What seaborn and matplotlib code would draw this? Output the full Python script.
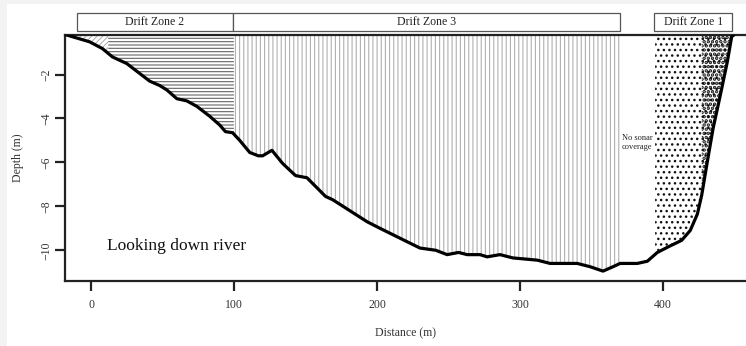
import numpy as np
import pandas as pd
import matplotlib
matplotlib.use("Agg")
import matplotlib.pyplot as plt
import matplotlib.transforms as mtransforms
from matplotlib.patches import Rectangle
import seaborn as sns

# ---- data ----
distance = [-17, -15, -1, 8, 15, 25, 34, 41, 48, 53, 60, 67, 74, 83, 90, 94, 99,
            104, 111, 117, 120, 126.5, 134, 143, 151, 164, 169, 181, 193, 202, 216,
            230, 241, 249, 257, 263, 272, 277, 286, 295, 312, 321, 340, 349, 358,
            365, 370, 382, 389, 396, 405, 413, 419, 424, 427, 431, 435, 440, 445,
            448, 449.5]
depth = [-0.2, -0.24, -0.51, -0.82, -1.2, -1.5, -1.95, -2.3, -2.5, -2.7, -3.1,
         -3.2, -3.45, -3.9, -4.3, -4.6, -4.65, -5.0, -5.55, -5.7, -5.7, -5.45,
         -6.05, -6.6, -6.7, -7.55, -7.7, -8.2, -8.7, -9.0, -9.45, -9.9, -10.0,
         -10.2, -10.1, -10.2, -10.2, -10.3, -10.2, -10.35, -10.45, -10.6, -10.6,
         -10.75, -10.95, -10.75, -10.6, -10.6, -10.5, -10.1, -9.8, -9.55, -9.1,
         -8.35, -7.5, -5.95, -4.45, -2.95, -1.4, -0.27, -0.2]

zone_names = ["Drift Zone 2", "Drift Zone 3", "Drift Zone 1"]
zone_header_start = [-10, 99.5, 393.7]
zone_header_end = [99.5, 370, 448.3]

# hatched regions: (start, end)
diag_region = (-17, 12)
zone2_region = (12, 100)
zone3_region = (100, 370)
zone1_light_region = (394.4, 450)
zone1_dark_region = (427, 450)

x_ticks = [0, 100, 200, 300, 400]
y_ticks = [-2, -4, -6, -8, -10]
x_limits = (-18.2, 458)
y_limits = (-11.4, -0.2)

df = pd.DataFrame({"Distance": distance, "Depth": depth})

sns.set_theme(style="white")
plt.rcParams['font.family'] = ['Liberation Serif', 'DejaVu Serif']

fig = plt.figure(figsize=(7.46, 3.46), dpi=100)
fig.patch.set_facecolor('#f3f3f3')
fig.add_artist(Rectangle((7 / 746, 0), 1, 1 - 4 / 346, transform=fig.transFigure,
                         facecolor='white', edgecolor='none', zorder=-10))
ax = fig.add_axes([65 / 746, (346 - 281) / 346, 1 - 65 / 746, (281 - 35) / 346])
ax.set_facecolor('none')

# dense curve for fills
xd = np.linspace(min(distance), max(distance), 4000)
yd = np.interp(xd, distance, depth)
top = y_limits[1]


def hfill(region, hatch, color, lw):
    m = (xd >= region[0]) & (xd <= region[1])
    poly = ax.fill_between(xd[m], yd[m], top, facecolor='none', edgecolor=color,
                           linewidth=0, hatch=hatch, zorder=1)
    try:
        poly.set_hatch_linewidth(lw)
    except AttributeError:
        pass
    return poly


with plt.rc_context({'hatch.linewidth': 0.6}):
    hfill(diag_region, '//////', '#a0a0a0', 0.6)
with plt.rc_context({'hatch.linewidth': 0.8}):
    hfill(zone2_region, '-----', '#666666', 0.8)
with plt.rc_context({'hatch.linewidth': 0.8}):
    hfill(zone3_region, '||||', '#b0b0b0', 0.8)
with plt.rc_context({'hatch.linewidth': 1.0}):
    hfill(zone1_light_region, '...', '#111111', 1.0)
with plt.rc_context({'hatch.linewidth': 1.7}):
    hfill(zone1_dark_region, '....', '#111111', 1.7)

sns.lineplot(data=df, x="Distance", y="Depth", ax=ax, color='black', linewidth=2.3,
             sort=False, estimator=None, zorder=3)

ax.set_xlim(*x_limits)
ax.set_ylim(*y_limits)
ax.set_xticks(x_ticks)
ax.set_yticks(y_ticks)
ax.set_xticklabels([str(t) for t in x_ticks], fontsize=8.5, color='#333333')
ax.set_yticklabels(["\u2212" + str(abs(t)) for t in y_ticks], fontsize=8.5,
                   color='#333333', rotation=90, va='center')
ax.tick_params(axis='both', direction='out', length=7, width=1.6, color='#222222',
               bottom=True, left=True, pad=6)
ax.tick_params(axis='y', pad=2)
ax.set_xlabel("Distance (m)", fontsize=8.5, color='#333333', labelpad=12)
ax.set_ylabel("Depth (m)", fontsize=8.5, color='#333333', labelpad=12)

for s in ['left', 'bottom', 'top']:
    ax.spines[s].set_visible(True)
    ax.spines[s].set_color('#222222')
    ax.spines[s].set_linewidth(1.6)
ax.spines['right'].set_visible(False)

# header boxes
trans = mtransforms.blended_transform_factory(ax.transData, ax.transAxes)
for name, x0, x1 in zip(zone_names, zone_header_start, zone_header_end):
    ax.add_patch(Rectangle((x0, 1.016), x1 - x0, 0.073, transform=trans,
                           facecolor='white', edgecolor='#555555', linewidth=0.9,
                           clip_on=False, zorder=5))
    ax.text((x0 + x1) / 2, 1.0525, name, transform=trans, ha='center', va='center',
            fontsize=8.5, color='#222222', zorder=6, clip_on=False)

ax.text(11, -9.8, "Looking down river", fontsize=12.5, color='#111111',
        ha='left', va='center')
ax.text(392.5, -5.1, "No sonar\ncoverage", fontsize=6, color='#222222',
        ha='right', va='center', linespacing=1.1)

fig.savefig("out.png", dpi=100, facecolor=fig.get_facecolor())
